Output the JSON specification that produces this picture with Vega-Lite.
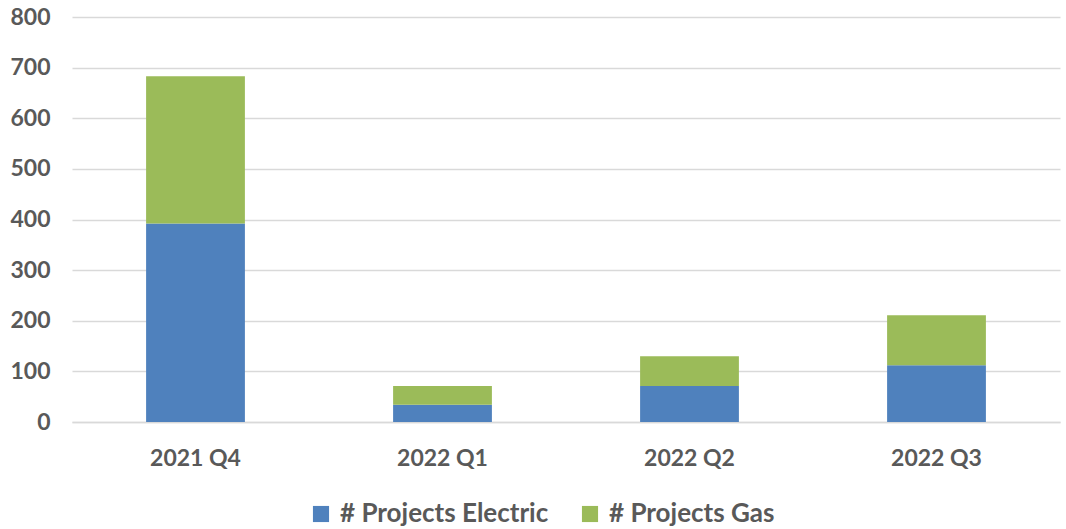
{
  "$schema": "https://vega.github.io/schema/vega-lite/v6.json",
  "width": 988,
  "height": 405,
  "autosize": "none",
  "padding": {"left": 72, "top": 17, "right": 6, "bottom": 107},
  "background": "white",
  "data": {"values": [
    {"quarter": "2021 Q4", "series": "# Projects Electric", "ord": 1, "value": 392},
    {"quarter": "2021 Q4", "series": "# Projects Gas", "ord": 2, "value": 291},
    {"quarter": "2022 Q1", "series": "# Projects Electric", "ord": 1, "value": 34},
    {"quarter": "2022 Q1", "series": "# Projects Gas", "ord": 2, "value": 37},
    {"quarter": "2022 Q2", "series": "# Projects Electric", "ord": 1, "value": 71},
    {"quarter": "2022 Q2", "series": "# Projects Gas", "ord": 2, "value": 59},
    {"quarter": "2022 Q3", "series": "# Projects Electric", "ord": 1, "value": 112},
    {"quarter": "2022 Q3", "series": "# Projects Gas", "ord": 2, "value": 99}
  ]},
  "config": {
    "view": {"stroke": null},
    "font": "Lato",
    "axis": {"labelFont": "Lato", "labelFontWeight": "bold", "labelColor": "#595959", "labelFontSize": 23}
  },
  "mark": {"type": "bar"},
  "encoding": {
    "x": {
      "field": "quarter", "type": "nominal", "title": null,
      "scale": {"paddingInner": 0.6, "paddingOuter": 0.3},
      "axis": {"labelAngle": 0, "ticks": false, "domainColor": "#d9d9d9", "domainWidth": 1.5, "labelPadding": 25, "grid": false}
    },
    "y": {
      "field": "value", "type": "quantitative", "aggregate": "sum", "title": null, "stack": "zero",
      "scale": {"domain": [0, 800], "nice": false},
      "axis": {"values": [0, 100, 200, 300, 400, 500, 600, 700, 800], "domain": false, "ticks": false, "labelPadding": 22, "gridColor": "#d9d9d9", "gridWidth": 1.5}
    },
    "color": {
      "field": "series", "type": "nominal",
      "scale": {"domain": ["# Projects Electric", "# Projects Gas"], "range": ["#4F81BD", "#9BBB59"]},
      "legend": {
        "title": null, "orient": "none", "direction": "horizontal",
        "legendX": 236, "legendY": 484,
        "symbolType": "square", "symbolSize": 260, "symbolStrokeWidth": 0, "symbolOpacity": 1,
        "labelFont": "Lato", "labelFontWeight": "bold", "labelFontSize": 26, "labelColor": "#595959",
        "labelLimit": 400, "columnPadding": 28, "labelOffset": 6
      }
    },
    "order": {"field": "ord", "type": "quantitative"}
  }
}
